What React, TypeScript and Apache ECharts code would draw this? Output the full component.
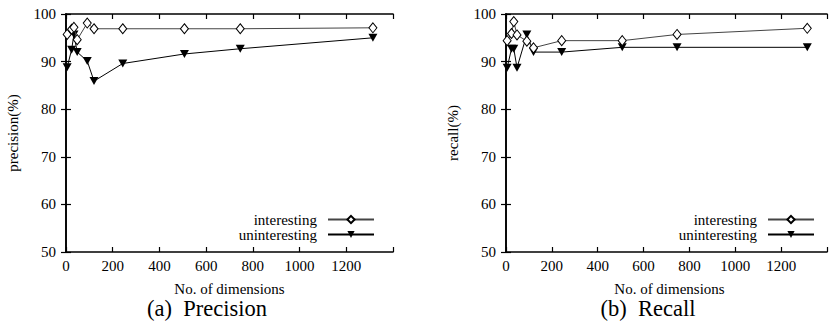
import React, { useEffect, useRef } from 'react';
import * as echarts from 'echarts';

const dims = [5, 24, 34, 48, 91, 120, 243, 507, 746, 1314];
const precisionInteresting = [95.7, 96.8, 97.2, 94.6, 98.1, 96.9, 96.9, 96.9, 96.9, 97.1];
const precisionUninteresting = [88.8, 92.5, 95.7, 92.0, 90.1, 85.9, 89.6, 91.6, 92.7, 95.0];
const recallInteresting = [94.4, 95.9, 98.4, 95.6, 94.3, 92.9, 94.4, 94.4, 95.7, 97.0];
const recallUninteresting = [88.7, 92.7, 92.7, 88.7, 95.7, 92.0, 92.0, 93.0, 93.0, 93.0];
const seriesNames = ['interesting', 'uninteresting'];
const panelTitles = ['(a)  Precision', '(b)  Recall'];
const yNames = ['precision(%)', 'recall(%)'];
const xName = 'No. of dimensions';

const FONT = 'Liberation Serif';

export default function App() {
  const ref = useRef<HTMLDivElement>(null);
  useEffect(() => {
    if (!ref.current) return;
    const chart = echarts.init(ref.current, null, { renderer: 'svg' });
    const grids = [
      { left: 66, top: 14, width: 327, height: 238 },
      { left: 506, top: 14, width: 327, height: 238 },
    ];
    const axisLine = { show: true, lineStyle: { color: '#000', width: 1.6 } };
    const tick = { inside: true, length: 5, lineStyle: { color: '#000', width: 1.2 } };
    const xAxes: any[] = [];
    const yAxes: any[] = [];
    [0, 1].forEach((g) => {
      xAxes.push({
        type: 'value', gridIndex: g, min: 0, max: 1400, interval: 200, position: 'bottom',
        axisLine, axisTick: tick,
        axisLabel: { fontFamily: FONT, fontSize: 15, color: '#000', margin: 6,
          formatter: (v: number) => (v === 1400 ? '' : String(v)) },
        splitLine: { show: false },
      });
      xAxes.push({
        type: 'value', gridIndex: g, min: 0, max: 1400, interval: 200, position: 'top',
        axisLine, axisTick: tick,
        axisLabel: { show: false }, splitLine: { show: false },
      });
      yAxes.push({
        type: 'value', gridIndex: g, min: 50, max: 100, interval: 10, position: 'left',
        axisLine, axisTick: tick,
        axisLabel: { fontFamily: FONT, fontSize: 15, color: '#000', margin: 10 },
        splitLine: { show: false },
      });
      yAxes.push({
        type: 'value', gridIndex: g, min: 50, max: 100, interval: 10, position: 'right',
        axisLine, axisTick: tick,
        axisLabel: { show: false }, splitLine: { show: false },
      });
    });
    const mk = (name: string, g: number, xs: number[], ys: number[]) => {
      const interesting = name === seriesNames[0];
      return {
        type: 'line', name, xAxisIndex: g * 2, yAxisIndex: g * 2,
        data: xs.map((x, i) => [x, ys[i]]),
        symbol: interesting ? 'diamond' : 'triangle',
        symbolRotate: interesting ? 0 : 180,
        symbolSize: interesting ? [8, 10] : [9, 8],
        lineStyle: { color: interesting ? '#444' : '#000', width: 1 },
        itemStyle: interesting
          ? { color: '#fff', borderColor: '#000', borderWidth: 1 }
          : { color: '#000', borderColor: '#000', borderWidth: 0 },
        emphasis: { disabled: true },
        z: interesting ? 3 : 2,
      };
    };
    const legendCommon = {
      orient: 'vertical', align: 'right', top: 212, padding: 0,
      itemWidth: 46, itemHeight: 9, itemGap: 0,
      textStyle: { fontFamily: FONT, fontSize: 15, lineHeight: 15, color: '#000', padding: [0, 6, 0, 0] },
      selectedMode: false,
      data: seriesNames,
    };
    const texts: any[] = [];
    const titleX = [207, 648];
    const xNameX = [229.5, 669.5];
    const yNameX = [13, 453];
    [0, 1].forEach((g) => {
      texts.push({ type: 'text', x: titleX[g], y: 308, style: { text: panelTitles[g], fontFamily: FONT, fontSize: 22.5, fill: '#000', align: 'center', verticalAlign: 'middle' } });
      texts.push({ type: 'text', x: xNameX[g], y: 289, style: { text: xName, fontFamily: FONT, fontSize: 15, fill: '#000', align: 'center', verticalAlign: 'middle' } });
      texts.push({ type: 'text', x: yNameX[g], y: 133, rotation: Math.PI / 2, style: { text: yNames[g], fontFamily: FONT, fontSize: 15, fill: '#000', align: 'center', verticalAlign: 'middle' } });
    });
    chart.setOption({
      animation: false,
      backgroundColor: '#fff',
      textStyle: { fontFamily: FONT },
      grid: grids,
      xAxis: xAxes,
      yAxis: yAxes,
      legend: [
        { ...legendCommon, right: 455 },
        { ...legendCommon, right: 15 },
      ],
      graphic: texts,
      series: [
        mk(seriesNames[0], 0, dims, precisionInteresting),
        mk(seriesNames[1], 0, dims, precisionUninteresting),
        mk(seriesNames[0], 1, dims, recallInteresting),
        mk(seriesNames[1], 1, dims, recallUninteresting),
      ],
    });
    return () => chart.dispose();
  }, []);
  return <div ref={ref} style={{ position: 'fixed', left: 0, top: 0, width: 830, height: 321 }} />;
}
